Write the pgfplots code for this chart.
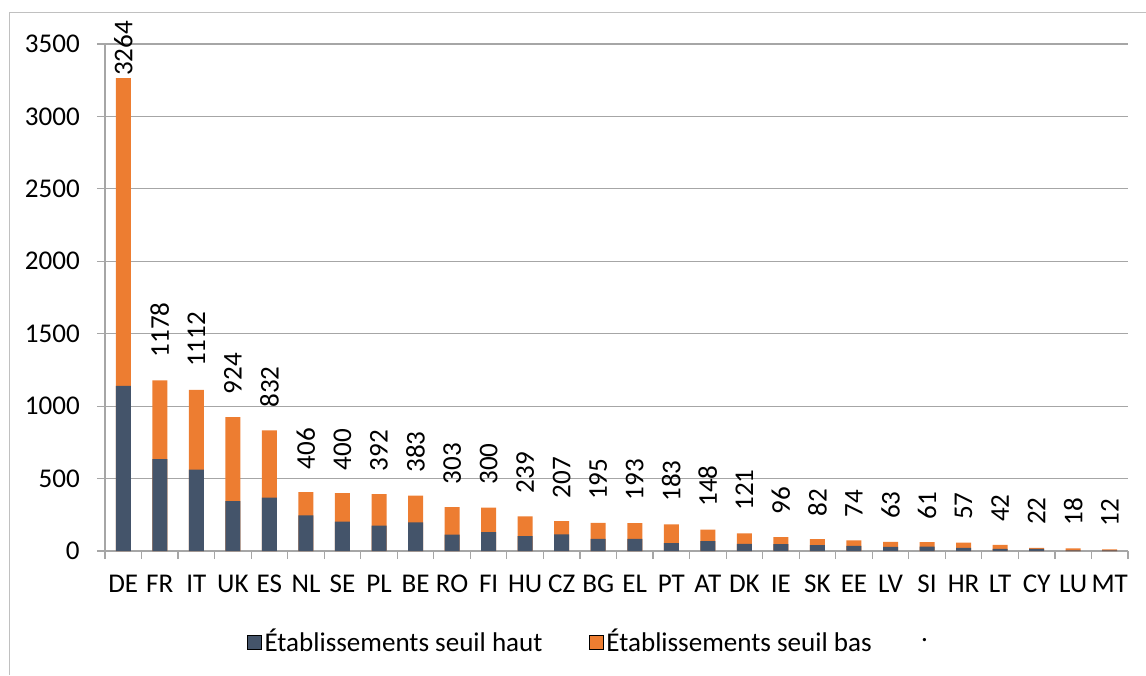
\documentclass[border=0pt]{standalone}
\usepackage{pgfplots}
\pgfplotsset{compat=1.18}
\usepackage{pgfplotstable}
\usepackage{fontspec}
\setmainfont{Carlito}
\definecolor{haut}{HTML}{44546A}
\definecolor{bas}{HTML}{ED7D31}
\definecolor{gridc}{HTML}{A6A6A6}
\definecolor{framec}{HTML}{C0C0C0}
\pgfplotstableread{
x name haut total gap
0 DE 1140 3264 1.5
1 FR 635 1178 17
2 IT 561 1112 17
3 UK 345 924 17
4 ES 368 832 17
5 NL 246 406 17
6 SE 202 400 17
7 PL 175 392 17
8 BE 198 383 17
9 RO 113 303 17
10 FI 131 300 17
11 HU 103 239 17
12 CZ 115 207 17
13 BG 83 195 17
14 EL 83 193 17
15 PT 55 183 17
16 AT 69 148 17
17 DK 50 121 17
18 IE 48 96 17
19 SK 41 82 17
20 EE 35 74 17
21 LV 28 63 17
22 SI 30 61 17
23 HR 21 57 17
24 LT 14 42 17
25 CY 14 22 17
26 LU 4 18 17
27 MT 4 12 17
}\data
\begin{document}
\fontsize{20.3}{24}\selectfont
\begin{tikzpicture}
\path[use as bounding box] (0,0) rectangle (859.5pt,506.25pt);
\draw[framec, line width=0.75pt] (6.75pt,0) -- (6.75pt,496.5pt) -- (859.5pt,496.5pt);
\begin{axis}[
  at={(78.75pt,93pt)}, anchor=south west,
  scale only axis, width=767.25pt, height=380.25pt,
  ybar, bar width=11.25pt, bar shift=0pt,
  xmin=-0.5, xmax=27.5, ymin=0, ymax=3500,
  xtick={0,...,27},
  xticklabels from table={\data}{name},
  ytick={0,500,...,3500},
  minor xtick={-0.5,0.5,...,27.5},
  axis lines*=left,
  axis line style={-, draw=gridc, line width=0.9pt},
  ymajorgrids, grid style={draw=gridc, line width=0.9pt},
  tick align=outside,
  major tick length=6pt, minor tick length=6pt,
  major x tick style={draw=none},
  minor x tick style={draw=gridc, line width=0.9pt},
  y tick style={draw=gridc, line width=0.9pt},
  /pgf/number format/assume math mode=true,
  /pgf/number format/1000 sep={},
  xticklabel style={yshift=-4pt, text height=1.45ex, text depth=0.25ex},
  yticklabel style={xshift=-6pt},
  legend style={at={(0.135,-0.18)}, anchor=west, draw=none, fill=none,
    legend columns=3, font=\fontsize{20.3}{24}\selectfont,
    /tikz/every even column/.append style={column sep=33pt},
    /tikz/column 4/.append style={column sep=41pt}},
  legend image code/.code={\fill[#1] (0pt,-5.25pt) rectangle (10.5pt,5.25pt);},
]
\addplot[fill=bas, draw=none, forget plot,
  nodes near coords, point meta=explicit symbolic,
  visualization depends on={\thisrow{gap}\as\gap},
  nodes near coords style={rotate=90, anchor=west, inner xsep=\gap pt, inner ysep=0pt, black, font=\fontsize{20.3}{24}\selectfont}]
  table[x=x, y=total, meta=total] {\data};
\addplot[fill=haut, draw=none, forget plot] table[x=x, y=haut] {\data};
\addlegendimage{fill=haut}
\addlegendentry{Établissements seuil haut}
\addlegendimage{fill=bas}
\addlegendentry{Établissements seuil bas}
\addlegendimage{empty legend}
\addlegendentry{.}
\end{axis}
\end{tikzpicture}
\end{document}
